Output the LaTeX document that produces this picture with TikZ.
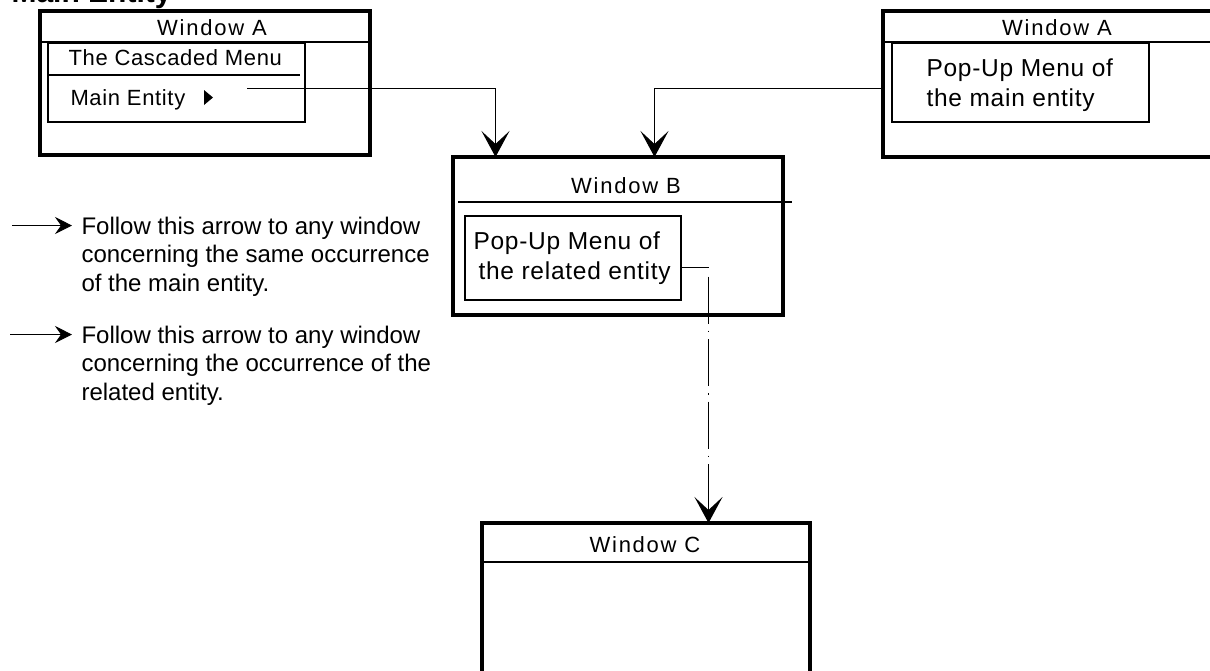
\documentclass[tikz,border=0pt]{standalone}
\usepackage{fontspec}
\setmainfont{Liberation Sans}
\newfontfamily\weit[LetterSpace=8]{Liberation Sans}
\newfontfamily\leicht[LetterSpace=3]{Liberation Sans}
\usetikzlibrary{arrows.meta}

\begin{document}
\begin{tikzpicture}[x=1pt,y=-1pt,
	fenster/.style={draw,rectangle,line width=3.2pt,inner sep=0pt},
	menue/.style={draw,rectangle,line width=2pt,inner sep=0pt},
	trenner/.style={line width=1.6pt},
	titel/.style={anchor=base,font=\weit\fontsize{22}{26}\selectfont},
	eintrag/.style={anchor=base west,font=\leicht\fontsize{22}{26}\selectfont},
	popup/.style={anchor=base west,font=\leicht\fontsize{24.5}{30}\selectfont},
	legende/.style={anchor=base west,font=\fontsize{24}{28}\selectfont},
	verbinder/.style={line width=1pt,-{Stealth[length=26pt,width=28pt,inset=13pt]}},
	kleinpfeil/.style={line width=1pt,-{Stealth[length=17pt,width=17pt,inset=6pt]}}]

\useasboundingbox (0,0) rectangle (1210,670);
\clip (0,0) rectangle (1210,670);

% title
\node[anchor=base west,font=\bfseries\fontsize{30}{36}\selectfont] (haupt) at (8,2) {Main Entity};

% window A with the cascaded menu
\node[fenster,minimum width=330pt,minimum height=144pt] (winAl) at (205,83) {};
\draw[trenner] (40,42) -- (370,42);
\node[titel] (titAl) at (212,35) {Window A};
\node[menue,minimum width=257pt,minimum height=79pt] (kaskade) at (176.5,82.5) {};
\draw[line width=2pt] (48,75) -- (300,75);
\node[eintrag] (kasktext) at (65,65.7) {The Cascaded Menu};
\node[eintrag] (hauptitem) at (67,105) {Main Entity};
\fill (204,90) -- (213,97.5) -- (204,105) -- cycle;

% window A with the pop-up menu
\node[fenster,minimum width=348pt,minimum height=146pt] (winAr) at (1057,84) {};
\draw[trenner] (883,42) -- (1231,42);
\node[titel] (titAr) at (1057,35) {Window A};
\node[menue,minimum width=257pt,minimum height=79pt] (popA) at (1020.5,82.5) {};
\node[popup] (popA1) at (923,76.7) {Pop-Up Menu of};
\node[popup] (popA2) at (923,106.7) {the main entity};

% window B
\node[fenster,minimum width=330pt,minimum height=158pt] (winB) at (618,236) {};
\draw[trenner] (458,202) -- (792,202);
\node[titel] (titB) at (626,193) {Window B};
\node[menue,minimum width=216pt,minimum height=84pt] (popB) at (573,258) {};
\node[popup] (popB1) at (470,249) {Pop-Up Menu of};
\node[popup] (popB2) at (475,279) {the related entity};

% window C
\node[fenster,minimum width=328pt,minimum height=177pt] (winC) at (646,611.5) {};
\draw[trenner] (482,562) -- (810,562);
\node[titel] (titC) at (645,552) {Window C};

% connectors
\coordinate (vonAl) at (247,88.5);
\coordinate (inB1) at (495.5,157);
\coordinate (vonAr) at (883,88.5);
\coordinate (inB2) at (654.5,157);
\coordinate (knick) at (708.5,267.5);
\coordinate (knick2) at (708.5,273);
\coordinate (inC) at (708.5,523);

\draw[verbinder] (vonAl) -| (inB1);
\draw[verbinder] (vonAr) -| (inB2);
\draw[line width=1pt] (popB.east |- knick) -- (knick);
\draw[verbinder,line width=1.3pt,dash pattern=on 47pt off 7pt on 1.5pt off 7pt,dash phase=59pt] (knick2) -- (inC);

% legend
\coordinate (l1a) at (12,225.5);
\coordinate (l1b) at (72,225.5);
\coordinate (l2a) at (10,334.5);
\coordinate (l2b) at (72,334.5);
\draw[kleinpfeil] (l1a) -- (l1b);
\draw[kleinpfeil] (l2a) -- (l2b);

\node[legende] (leg1) at (78,234) {Follow this arrow to any window};
\node[legende] (leg2) at (78,262.5) {concerning the same occurrence};
\node[legende] (leg3) at (78,291) {of the main entity.};
\node[legende] (leg4) at (78,343) {Follow this arrow to any window};
\node[legende] (leg5) at (78,371.5) {concerning the occurrence of the};
\node[legende] (leg6) at (78,400) {related entity.};

\end{tikzpicture}
\end{document}
